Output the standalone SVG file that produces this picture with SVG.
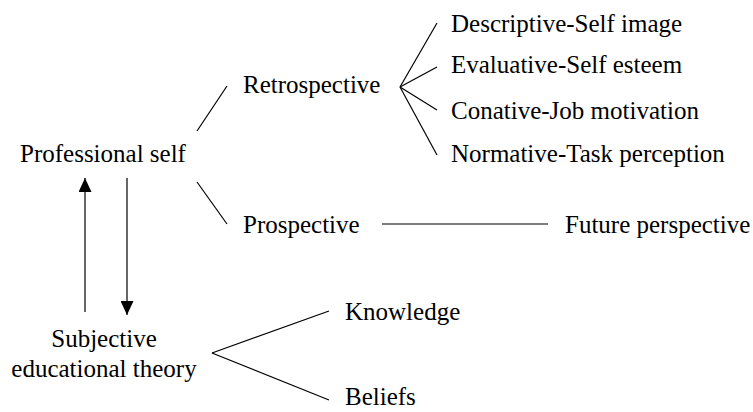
<svg xmlns="http://www.w3.org/2000/svg" width="753" height="412" viewBox="0 0 753 412">
<defs>
<style>
text{font-family:"Liberation Serif","Times New Roman",serif;font-size:25px;fill:#000}
.c line{stroke:#000;stroke-width:1.2;fill:none}
</style>
<marker id="ah" viewBox="0 0 14 13" refX="14" refY="6.5" markerWidth="14" markerHeight="13" markerUnits="userSpaceOnUse" orient="auto">
<path d="M0,0 L14,6.5 L0,13 Z" fill="#000"/>
</marker>
</defs>
<rect width="753" height="412" fill="#fff"/>
<g id="n-professional"><text x="20" y="162">Professional self</text></g>
<g id="n-retrospective"><text x="243" y="93">Retrospective</text></g>
<g id="n-descriptive"><text x="451" y="32">Descriptive-Self image</text></g>
<g id="n-evaluative"><text x="451" y="73">Evaluative-Self esteem</text></g>
<g id="n-conative"><text x="451" y="119">Conative-Job motivation</text></g>
<g id="n-normative"><text x="451" y="162">Normative-Task perception</text></g>
<g id="n-prospective"><text x="243" y="233">Prospective</text></g>
<g id="n-future"><text x="565" y="233">Future perspective</text></g>
<g id="n-subjective"><text x="104" y="347" text-anchor="middle">Subjective</text><text x="104" y="377" text-anchor="middle">educational theory</text></g>
<g id="n-knowledge"><text x="345" y="320">Knowledge</text></g>
<g id="n-beliefs"><text x="345" y="405">Beliefs</text></g>
<g id="connectors" class="c">
<line x1="197" y1="131" x2="227" y2="86"/>
<line x1="197" y1="182" x2="227" y2="224"/>
<line x1="400" y1="87" x2="437" y2="23"/>
<line x1="400" y1="87" x2="437" y2="67"/>
<line x1="400" y1="87" x2="437" y2="110"/>
<line x1="400" y1="87" x2="437" y2="155"/>
<line x1="382" y1="224" x2="548" y2="224"/>
<line x1="212" y1="353" x2="329" y2="311"/>
<line x1="212" y1="353" x2="329" y2="400"/>
<line x1="85" y1="312" x2="85" y2="178" marker-end="url(#ah)"/>
<line x1="127" y1="178" x2="127" y2="315" marker-end="url(#ah)"/>
</g>
</svg>
